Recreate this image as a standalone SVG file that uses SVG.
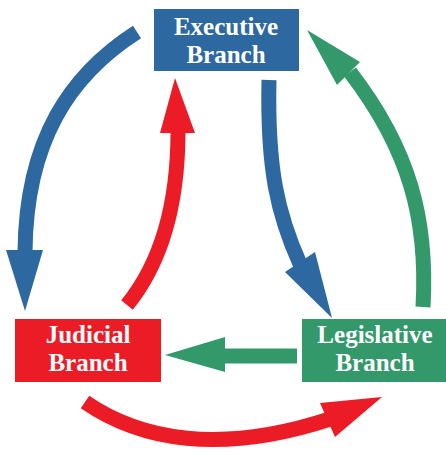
<svg xmlns="http://www.w3.org/2000/svg" width="446" height="457" viewBox="0 0 446 457">
<style>
.lbl{font-family:"Liberation Serif","Times New Roman",serif;font-weight:bold;font-size:25px;fill:#fff;text-anchor:middle}
.shaft{fill:none;stroke-width:15}
.blue{stroke:#2e68a0}
.red{stroke:#ec1c27}
.green{stroke:#34996a}
.hb{fill:#2e68a0}
.hr{fill:#ec1c27}
.hg{fill:#34996a}
</style>
<rect width="446" height="457" fill="#fff"/>
<g id="connectors">
  <path class="shaft blue" d="M137,32 C70,75 26,140 25,252"/>
  <polygon class="hb" points="6,250 43,250 25,311"/>
  <path class="shaft blue" d="M269,80 C267,170 278,215 300,264"/>
  <polygon class="hb" points="285,272 315,252 332,318"/>
  <path class="shaft red" d="M127,305 C162,262 178,205 178,131"/>
  <polygon class="hr" points="160,133 195,133 175,78"/>
  <path class="shaft green" d="M423,307 C428,220 410,150 350,72"/>
  <polygon class="hg" points="337,85 360,62 307,30"/>
  <path class="shaft green" d="M297,356 L223,356"/>
  <polygon class="hg" points="225,337 225,372 165,355"/>
  <path class="shaft red" d="M85,402 C140,440 220,455 330,419"/>
  <polygon class="hr" points="320,403 335,437 382,397"/>
</g>
<g id="executive">
  <rect x="154" y="9" width="145" height="62" fill="#2e68a0"/>
  <text class="lbl" x="226" y="35">Executive</text>
  <text class="lbl" x="226" y="63">Branch</text>
</g>
<g id="judicial">
  <rect x="15" y="319" width="146" height="63" fill="#ec1c27"/>
  <text class="lbl" x="88" y="343">Judicial</text>
  <text class="lbl" x="88" y="371">Branch</text>
</g>
<g id="legislative">
  <rect x="302" y="319" width="144" height="63" fill="#34996a"/>
  <text class="lbl" x="375" y="343">Legislative</text>
  <text class="lbl" x="375" y="371">Branch</text>
</g>
</svg>
